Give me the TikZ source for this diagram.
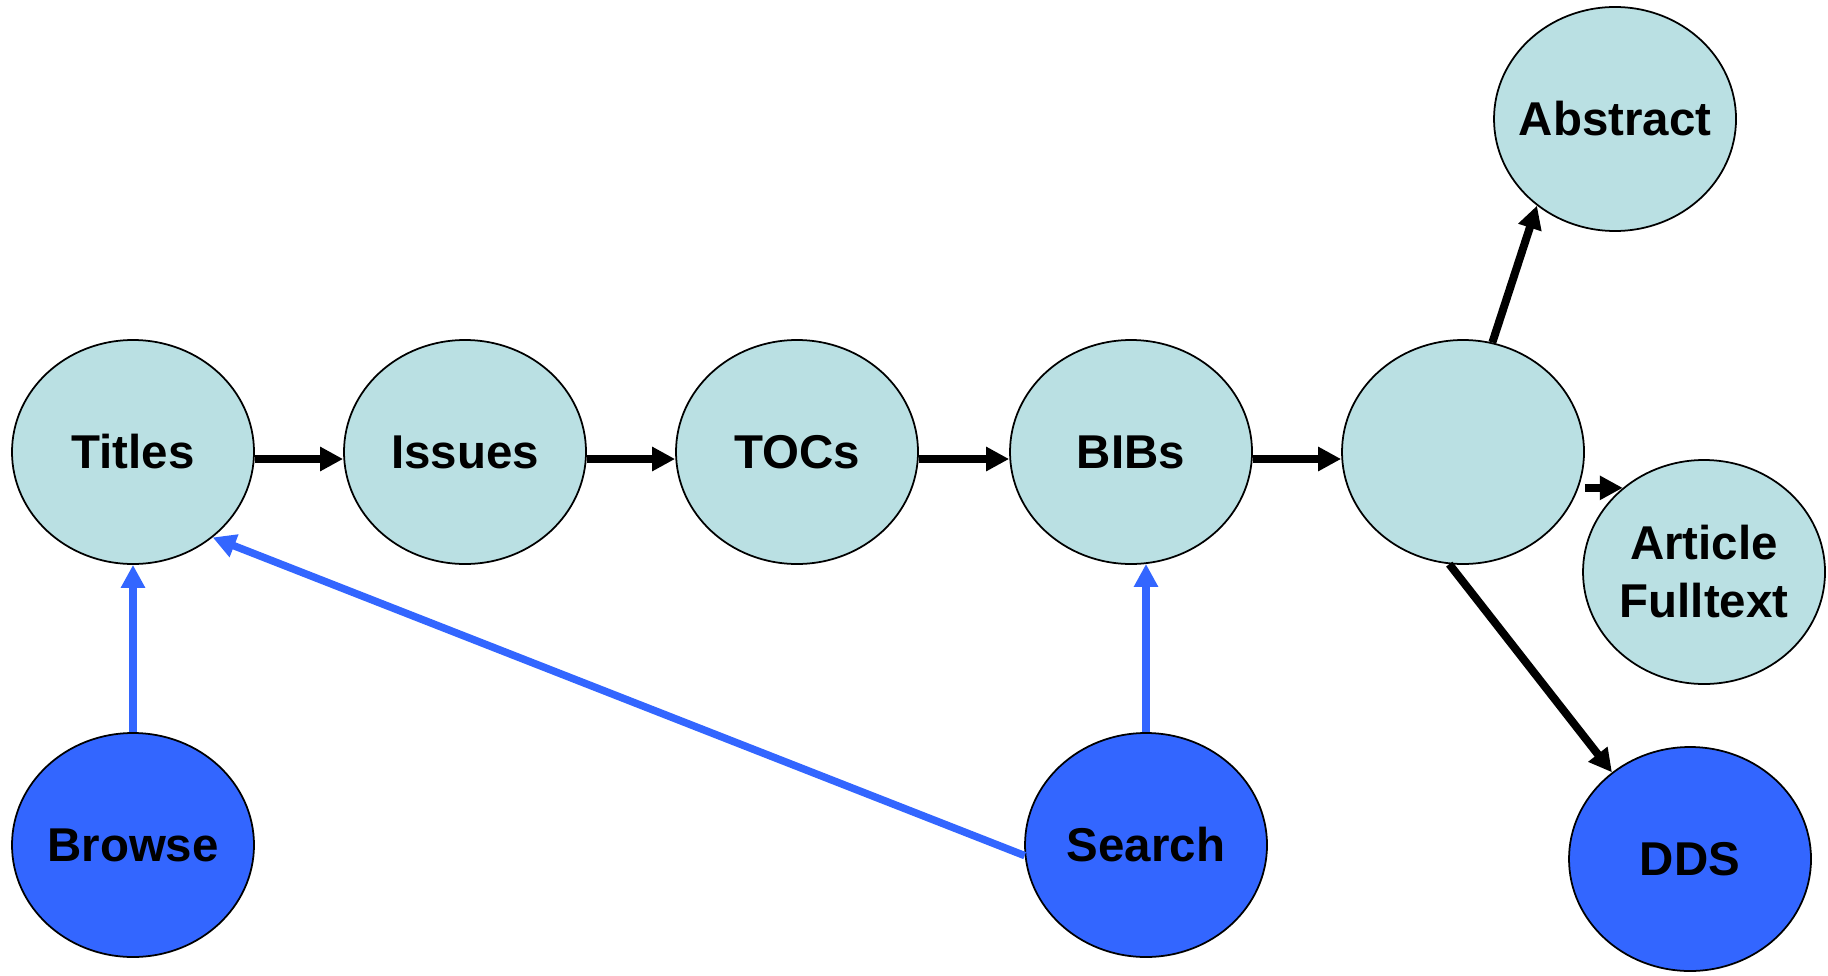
\documentclass[tikz,border=0pt]{standalone}
\usepackage{fontspec}
\setmainfont{Liberation Sans}
\usetikzlibrary{arrows.meta,shapes.geometric}

\definecolor{lightcyan}{HTML}{BAE0E3}
\definecolor{searchblue}{HTML}{3366FF}

\tikzset{
    place/.style={ellipse, draw=black, line width=0.5pt,
        minimum width=2.42cm, minimum height=2.24cm,
        inner xsep=-0.2cm, inner ysep=0pt, align=center,
        font=\bfseries\fontsize{13.5}{16.5}\selectfont},
    lightnode/.style={place, fill=lightcyan},
    bluenode/.style={place, fill=searchblue},
    arr/.style={-{Triangle[length=0.23cm,width=0.23cm]}, line width=0.08cm},
    bluearr/.style={arr, line width=0.075cm, searchblue}
}

\begin{document}
\begin{tikzpicture}
        \useasboundingbox (0,0) rectangle (18.28,9.75);

        \node (titles) [lightnode] at (1.33,5.23) {Titles};
        \node (issues) [lightnode] at (4.65,5.23) {Issues};
        \node (tocs) [lightnode] at (7.97,5.23) {TOCs};
        \node (bibs) [lightnode] at (11.31,5.23) {BIBs};
        \node (article) [lightnode] at (14.63,5.23) {};

        \node (abstract) [lightnode] at (16.15,8.56) {Abstract};
        \node (fulltext) [lightnode] at (17.04,4.03) {Article\\Fulltext};
        \node (dds) [bluenode] at (16.90,1.16) {DDS};

        \node (browse) [bluenode] at (1.33,1.30) {Browse};
        \node (search) [bluenode] at (11.46,1.30) {Search};

        \draw [arr] ([yshift=-0.07cm]titles.east) -- ([yshift=-0.07cm]issues.west);
        \draw [arr] ([yshift=-0.07cm]issues.east) -- ([yshift=-0.07cm]tocs.west);
        \draw [arr] ([yshift=-0.07cm]tocs.east) -- ([yshift=-0.07cm]bibs.west);
        \draw [arr] ([yshift=-0.07cm]bibs.east) -- ([yshift=-0.07cm]article.west);

        \draw [arr] (article.75) -- (abstract.228);
        \draw [arr] (fulltext.134 -| article.east) -- (fulltext.134);
        \draw [arr] (article.263) -- (dds.132);

        \draw [bluearr] (browse.north) -- (titles.south);
        \draw [bluearr] (search.north) -- (search.north |- bibs.278);
        \draw [bluearr] (search.185) -- (titles.313);
    \end{tikzpicture}
\end{document}
